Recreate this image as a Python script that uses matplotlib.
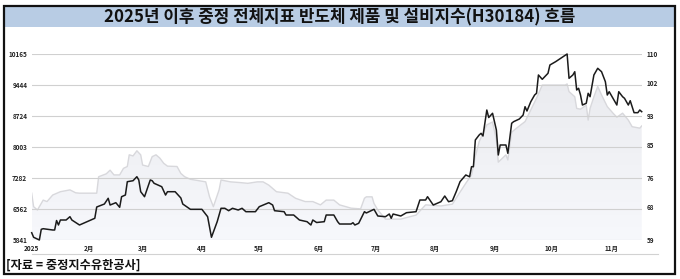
import matplotlib
matplotlib.use("Agg")
import matplotlib.pyplot as plt
import matplotlib.dates as mdates
from matplotlib.patches import Rectangle
from matplotlib.lines import Line2D
from matplotlib.colors import LinearSegmentedColormap
import numpy as np
import pandas as pd

plt.rcParams["font.family"] = ["Noto Sans CJK KR", "DejaVu Sans"]

TITLE = "2025년 이후 중정 전체지표 반도체 제품 및 설비지수(H30184) 흐름"
SOURCE = "[자료 = 중정지수유한공사]"

# days since 2025-01-01, index level (left axis)
black_days = [1, 2, 5, 6, 7, 12, 13, 14, 15, 16, 19, 21, 22, 26, 34, 35, 39, 41, 42, 45,
              47, 48, 50, 51, 54, 56, 57, 58, 60, 63, 64, 65, 69, 71, 72, 76, 79, 80, 82, 84,
              90, 93, 95, 98, 100, 102, 104, 106, 109, 111, 113, 118, 120, 125, 127, 128, 133, 134, 138, 141,
              145, 147, 148, 150, 154, 155, 159, 161, 162, 168, 169, 170, 172, 175, 176, 180, 182, 186, 188, 189,
              190, 194, 197, 202, 204, 207, 208, 211, 215, 217, 219, 221, 223, 225, 228, 230, 231, 232, 233, 235,
              236, 237, 239, 240, 242, 244, 245, 246, 249, 250, 252, 253, 256, 258, 259, 260, 262, 264, 265, 266,
              268, 271, 272, 275, 281, 282, 284, 285, 286, 287, 288, 289, 291, 292, 293, 295, 297, 299, 301, 302,
              303, 305, 307, 308, 310, 311, 313, 314, 316, 318, 319, 320]
black_vals = [6017, 5911, 5848, 6096, 6110, 6080, 6080, 6300, 6196, 6312, 6312, 6389, 6312, 6196, 6352, 6614, 6683, 6816, 6660, 6714,
              6607, 6853, 6892, 7201, 7224, 7317, 7241, 6969, 6853, 7241, 7224, 7164, 7085, 6892, 6969, 6969, 6823, 6683, 6621, 6560,
              6560, 6389, 5911, 6273, 6584, 6584, 6528, 6584, 6544, 6584, 6505, 6505, 6621, 6714, 6660, 6528, 6505, 6428, 6428, 6312,
              6273, 6196, 6312, 6254, 6273, 6428, 6428, 6273, 6219, 6219, 6249, 6196, 6236, 6505, 6475, 6560, 6405, 6389, 6451, 6352,
              6451, 6405, 6482, 6505, 6776, 6776, 6853, 6660, 6737, 6869, 6737, 6760, 6969, 7201, 7357, 7317, 7549, 7549, 8169, 8285,
              8324, 8262, 8865, 8691, 8789, 8401, 7821, 8053, 8053, 7860, 8557, 8594, 8656, 8749, 8942, 8842, 9058, 9213, 9253, 9678,
              9578, 9717, 9910, 9987, 10165, 9601, 9678, 9754, 9330, 9369, 9213, 8981, 9021, 9253, 9174, 9678, 9833, 9754, 9522, 9213,
              9290, 9137, 8981, 9290, 9174, 9137, 8981, 9081, 8803, 8803, 8865, 8826]

# days since 2025-01-01, grey series (right axis)
grey_days = [1, 2, 4, 7, 9, 12, 16, 21, 24, 26, 35, 36, 40, 42, 44, 47, 49, 51, 52, 54,
             56, 58, 59, 62, 64, 66, 68, 70, 72, 77, 79, 81, 84, 92, 94, 96, 99, 100, 105, 110,
             114, 119, 122, 125, 127, 129, 135, 139, 144, 148, 152, 155, 159, 162, 168, 173, 175, 176, 179, 180,
             182, 186, 194, 202, 207, 215, 221, 225, 228, 231, 233, 235, 239, 242, 244, 245, 249, 250, 252, 256,
             259, 262, 265, 268, 272, 280, 281, 282, 285, 286, 288, 291, 292, 293, 295, 297, 299, 302, 305, 307,
             310, 313, 315, 319, 320]
grey_vals = [71.9, 68.2, 67.3, 70.0, 69.6, 71.4, 72.3, 72.8, 72.0, 71.9, 71.9, 76.4, 77.2, 78.2, 76.9, 76.9, 78.7, 79.2, 82.4, 82.1,
             83.5, 82.4, 79.6, 79.2, 81.9, 82.4, 81.5, 80.1, 79.3, 79.2, 77.3, 76.4, 75.7, 75.0, 70.9, 68.2, 72.8, 75.5, 75.0, 74.8,
             74.6, 75.0, 75.0, 74.1, 73.2, 72.3, 71.9, 70.5, 69.6, 69.6, 68.7, 70.0, 70.0, 68.7, 67.8, 67.6, 70.5, 70.9, 70.9, 69.1,
             67.3, 64.8, 64.8, 65.9, 68.7, 68.4, 68.9, 72.2, 74.6, 76.9, 82.0, 86.0, 90.6, 91.4, 86.5, 80.4, 82.4, 81.0, 88.6, 90.3,
             91.5, 94.7, 97.9, 101.5, 101.5, 101.5, 101.8, 99.7, 98.3, 95.1, 94.9, 96.0, 91.9, 95.1, 98.3, 101.1, 98.8, 95.6, 93.8, 92.7,
             93.8, 91.9, 90.1, 89.7, 90.3]

left_ticks = [5841, 6562, 7282, 8003, 8724, 9444, 10165]
right_ticks = [59, 68, 76, 85, 93, 102, 110]
month_ticks = ["2025-01-02", "2025-02-01", "2025-03-01", "2025-04-01", "2025-05-01", "2025-06-01",
               "2025-07-01", "2025-08-01", "2025-09-01", "2025-10-01", "2025-11-01"]
month_labels = ["2025", "2月", "3月", "4月", "5月", "6月", "7月", "8月", "9月", "10月", "11月"]

W, H = 680, 279
fig = plt.figure(figsize=(W / 100, H / 100), dpi=100)

start = pd.Timestamp("2025-01-01")
bx = start + pd.to_timedelta(black_days, unit="D")
gx = start + pd.to_timedelta(grey_days, unit="D")

ax = fig.add_axes([31.7 / W, 1 - 240.3 / H, 610 / W, 186.3 / H])
ax2 = ax.twinx()
ax.set_zorder(ax2.get_zorder() + 1)
ax.patch.set_visible(False)

x0, x1 = mdates.date2num(pd.Timestamp("2025-01-02")), mdates.date2num(pd.Timestamp("2025-11-17"))

# grey series with gradient fill
cmap = LinearSegmentedColormap.from_list("g", ["#f7f8fc", "#e8e9ed"])
poly = ax2.fill_between(gx, grey_vals, 59, color="none", lw=0)
grad = np.linspace(0, 1, 256).reshape(-1, 1)
im = ax2.imshow(grad, extent=[x0, x1, 59, 110], origin="lower", aspect="auto", cmap=cmap, zorder=1)
im.set_clip_path(poly.get_paths()[0], transform=ax2.transData)
ax2.plot(gx, grey_vals, color="#d8d8dc", lw=1.0, zorder=2)
ax2.set_ylim(59, 110)
ax2.set_yticks(right_ticks)
ax2.set_yticklabels([str(t) for t in right_ticks])

# grid on the left axis
ax.set_ylim(5841, 10165)
ax.set_xlim(x0, x1)
ax.set_yticks(left_ticks)
ax.set_yticklabels([str(t) for t in left_ticks])
for t in left_ticks:
    ax.axhline(t, color="#d0d0d0", lw=0.8, zorder=0)
ax.plot(bx, black_vals, color="#1b1b1b", lw=1.1, zorder=5, clip_on=False)

ax.set_xticks(pd.to_datetime(month_ticks))
ax.set_xticklabels(month_labels)

for a in (ax, ax2):
    for s in a.spines.values():
        s.set_visible(False)
    a.tick_params(length=0)
ax.tick_params(axis="y", pad=3.2, labelsize=4.6, labelcolor="#222222")
ax.tick_params(axis="x", pad=3.6, labelsize=4.6, labelcolor="#222222")
ax2.tick_params(axis="y", pad=3.8, labelsize=4.6, labelcolor="#222222")
for lab in ax.get_xticklabels() + ax.get_yticklabels() + ax2.get_yticklabels():
    lab.set_fontweight("bold")

# frame, title bar, bottom rule, source
fig.add_artist(Rectangle((5 / W, 1 - 27.3 / H), 669 / W, 20.6 / H, transform=fig.transFigure,
                         facecolor="#b8cce4", edgecolor="none"))
fig.add_artist(Rectangle((4 / W, 1 - 274 / H), 671 / W, 268 / H, transform=fig.transFigure,
                         fill=False, edgecolor="#111111", lw=1.6))
fig.text(339.5 / W, 1 - 17 / H, TITLE, ha="center", va="center", fontsize=12.1, fontweight="bold", color="#111111")
fig.add_artist(Line2D([31.7 / W, 658 / W], [1 - 254 / H, 1 - 254 / H], transform=fig.transFigure,
                      color="#d2d2d2", lw=0.8))
fig.text(6 / W, 1 - 265 / H, SOURCE, ha="left", va="center", fontsize=8.8, fontweight="bold", color="#111111")

fig.savefig("out.png", dpi=100)
